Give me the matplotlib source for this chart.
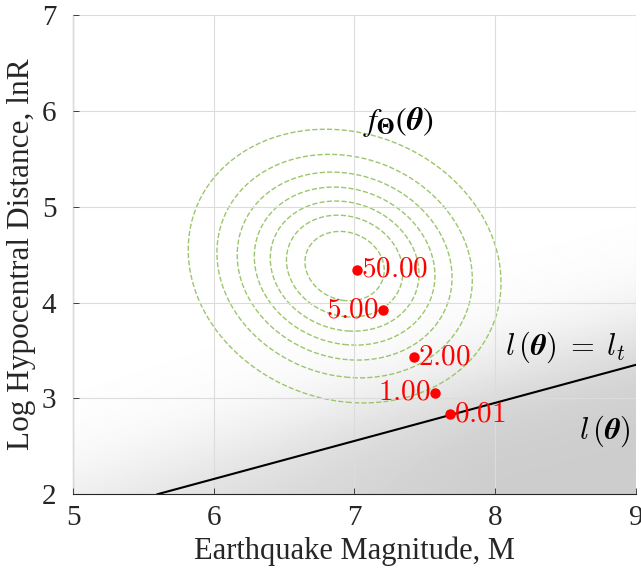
import numpy as np
import matplotlib
matplotlib.use('Agg')
import matplotlib.pyplot as plt

plt.rcParams['font.family'] = ['Liberation Serif', 'DejaVu Serif']
plt.rcParams['mathtext.fontset'] = 'cm'

# sample points (M, lnR) and their labels
pt_m = [7.02, 7.20, 7.42, 7.57, 7.68]
pt_lnr = [4.34, 3.92, 3.43, 3.06, 2.835]
pt_labels = ['50.00', '5.00', '2.00', '1.00', '0.01']
pt_side = ['right', 'left', 'right', 'left', 'right']

# limit state line l(theta) = l_t
line_m = [5.6, 9.0]
line_lnr = [2.0, 3.35]

# joint density f_Theta, bivariate normal
mu = [6.93, 4.38]
sd = [0.545, 0.70]
rho = -0.12
n_levels = 7

xticks = [5, 6, 7, 8, 9]
yticks = [2, 3, 4, 5, 6, 7]

fig = plt.figure(figsize=(6.41, 5.76), dpi=100)
ax = fig.add_axes([0.114, 0.142, 0.878, 0.832])

# grey shading of l(theta), darker towards lower right
gx = np.linspace(5, 9, 400)
gy = np.linspace(2, 7, 500)
GX, GY = np.meshgrid(gx, gy)
slope = (line_lnr[1] - line_lnr[0]) / (line_m[1] - line_m[0])
d = (line_lnr[0] + slope * (GX - line_m[0])) - GY
s = 1 / (1 + np.exp(-(d + 0.3) / 0.3))
w = 0.55 + 0.45 * np.clip((GX - 5) / 3, 0, 1)
shade = 1 - 0.2 * s * w
ax.imshow(shade, extent=[5, 9, 2, 7], origin='lower', cmap='gray',
          vmin=0, vmax=1, aspect='auto', interpolation='bilinear', zorder=0)

ax.set_xlim(5, 9)
ax.set_ylim(2, 7)
ax.set_xticks(xticks)
ax.set_yticks(yticks)
ax.grid(True, color='#dcdcdc', lw=0.8, zorder=1)
ax.set_axisbelow(False)

# density contours
zx = (GX - mu[0]) / sd[0]
zy = (GY - mu[1]) / sd[1]
q = (zx**2 - 2 * rho * zx * zy + zy**2) / (1 - rho**2)
pdf = np.exp(-q / 2)
levels = np.arange(1, n_levels + 1) / (n_levels + 1)
ax.contour(GX, GY, pdf, levels=levels, colors='#9cc66b', linestyles='--',
           linewidths=1.0, zorder=2)

ax.plot(line_m, line_lnr, color='black', lw=1.5, zorder=3)

ax.plot(pt_m, pt_lnr, 'o', color='red', ms=6.5, zorder=4)
for m, r, lab, side in zip(pt_m, pt_lnr, pt_labels, pt_side):
    off = 3 if side == 'right' else -3
    ax.annotate('$' + lab + '$', (m, r), xytext=(off, 0), textcoords='offset points',
                ha='left' if side == 'right' else 'right', va='center',
                color='red', fontsize=21, zorder=5)

ax.text(7.31, 5.88, r'$f_{\boldsymbol{\Theta}}(\boldsymbol{\theta})$', fontsize=23,
        ha='center', va='center', zorder=5, math_fontfamily='stix')
ax.text(8.5, 3.53, r'$l\,(\boldsymbol{\theta})\;=\;l_t$', fontsize=22,
        ha='center', va='center', zorder=5)
ax.text(8.78, 2.66, r'$l\,(\boldsymbol{\theta})$', fontsize=22,
        ha='center', va='center', zorder=5)

for sp in ['top', 'right']:
    ax.spines[sp].set_visible(False)
for sp in ['left', 'bottom']:
    ax.spines[sp].set_color('#262626')
    ax.spines[sp].set_linewidth(0.8)
ax.tick_params(direction='in', length=4, width=0.6, colors='#262626',
               labelsize=21, labelcolor='#262626')
ax.tick_params(axis='x', pad=8)
ax.tick_params(axis='y', pad=12)

ax.set_xlabel('Earthquake Magnitude, M', fontsize=22, color='#262626', labelpad=4)
ax.set_ylabel('Log Hypocentral Distance, lnR', fontsize=22.5, color='#262626', labelpad=4)

fig.savefig('out.png', dpi=100)
